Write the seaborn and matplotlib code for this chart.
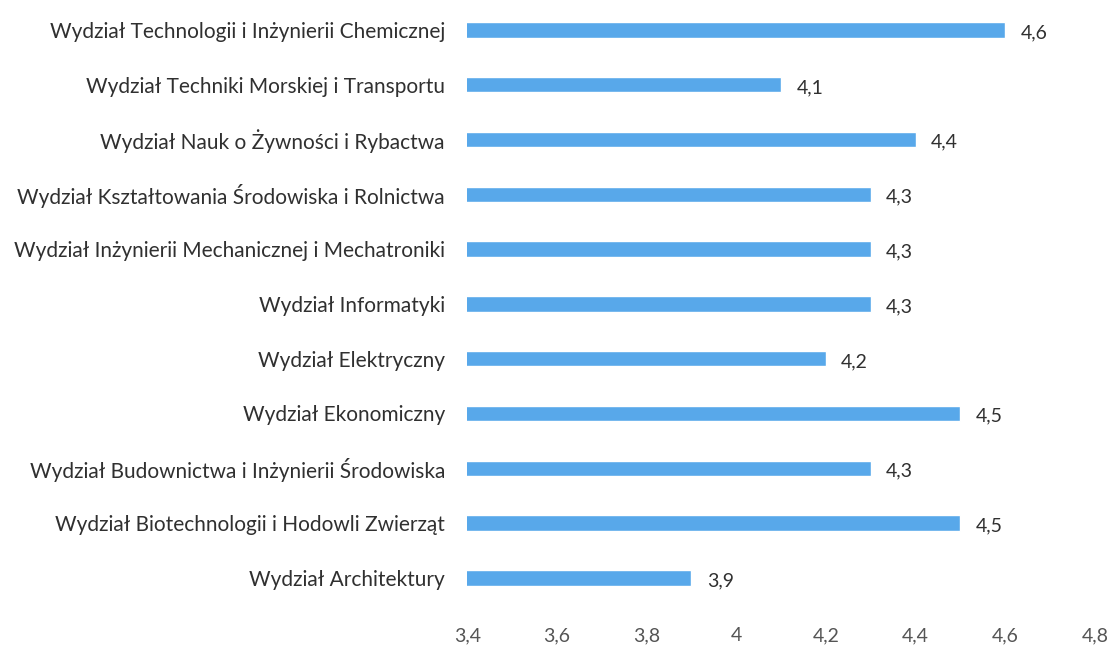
import matplotlib.pyplot as plt
import pandas as pd
import seaborn as sns

# Data (top to bottom as shown)
faculties = [
    "Wydział Technologii i Inżynierii Chemicznej",
    "Wydział Techniki Morskiej i Transportu",
    "Wydział Nauk o Żywności i Rybactwa",
    "Wydział Kształtowania Środowiska i Rolnictwa",
    "Wydział Inżynierii Mechanicznej i Mechatroniki",
    "Wydział Informatyki",
    "Wydział Elektryczny",
    "Wydział Ekonomiczny",
    "Wydział Budownictwa i Inżynierii Środowiska",
    "Wydział Biotechnologii i Hodowli Zwierząt",
    "Wydział Architektury",
]
scores = [4.6, 4.1, 4.4, 4.3, 4.3, 4.3, 4.2, 4.5, 4.3, 4.5, 3.9]
x_ticks = [3.4, 3.6, 3.8, 4.0, 4.2, 4.4, 4.6, 4.8]

df = pd.DataFrame({"faculty": faculties, "score": scores})

sns.set_theme(style="white")
plt.rcParams["font.family"] = ["Lato", "DejaVu Sans"]

fig = plt.figure(figsize=(11.15, 6.48), dpi=100)
ax = fig.add_axes([0.419, 0.066, 0.563, 0.930])

sns.barplot(
    data=df,
    x="score",
    y="faculty",
    color="#58a8ea",
    saturation=1,
    width=0.28,
    ax=ax,
)

ax.set_xlim(3.4, 4.8)
ax.set_xticks(x_ticks)
ax.set_xticklabels([f"{t:g}".replace(".", ",") for t in x_ticks], fontsize=14, color="#555555")
ax.tick_params(axis="x", length=0, pad=16)
ax.tick_params(axis="y", length=0, pad=16, labelsize=15, labelcolor="#303030")
ax.set_xlabel("")
ax.set_ylabel("")
sns.despine(ax=ax, left=True, bottom=True)

for p, v in zip(ax.patches, scores):
    ax.annotate(
        f"{v:g}".replace(".", ","),
        (p.get_width(), p.get_y() + p.get_height() / 2.0),
        ha="left",
        va="center",
        xytext=(11, -2),
        textcoords="offset points",
        fontsize=14,
        color="#303030",
    )

plt.savefig("out.png", dpi=100)
plt.close()
